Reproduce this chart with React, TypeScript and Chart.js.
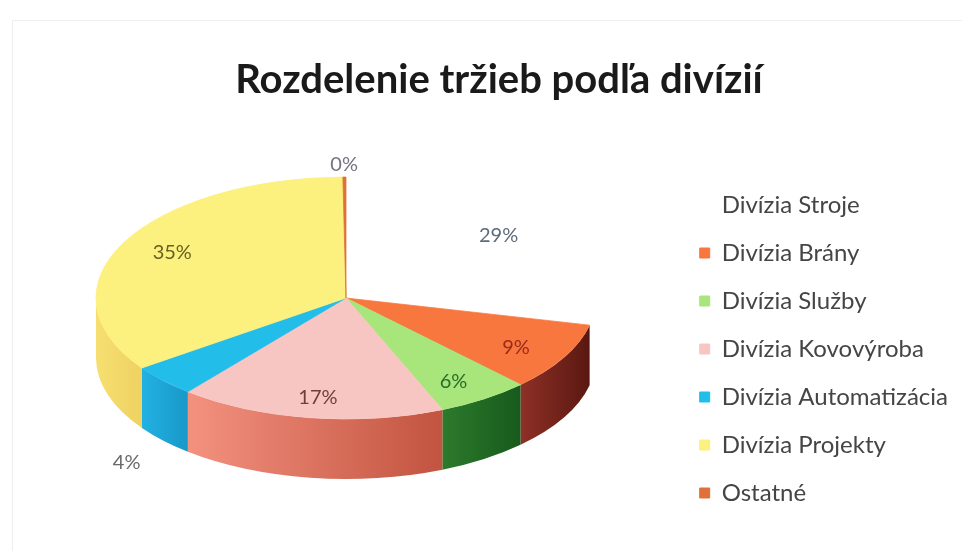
import React, { useEffect, useRef } from "react";
import { Chart, registerables } from "chart.js";

Chart.register(...registerables);

// ---- data ----
const chartTitle = "Rozdelenie tržieb podľa divízií";
const categories = [
  "Divízia Stroje",
  "Divízia Brány",
  "Divízia Služby",
  "Divízia Kovovýroba",
  "Divízia Automatizácia",
  "Divízia Projekty",
  "Ostatné",
];
const shares = [28.6, 9.1, 6.0, 17.2, 4.3, 34.6, 0.2];

// ---- styles ----
const topColors = ["#ffffff", "#f7773e", "#a8e67c", "#f8c6c2", "#22bde9", "#fcf07e", "#e0703a"];
const sideLight = ["#ffffff", "#8e3026", "#2c7a2c", "#f3917f", "#22b2e2", "#f6df70", "#b85020"];
const sideDark = ["#ffffff", "#5a1810", "#185a1c", "#c25440", "#1898c8", "#eed262", "#a04018"];
const labelColors = ["#5d6b7c", "#9c2a1c", "#2b6a2b", "#6b3f3f", "#6a6a6a", "#676220", "#747484"];

const FONT = "Lato, 'Open Sans', sans-serif";
const GEOM = { cx: 346, cy: 298, rx: 250, ry: 121, depth: 60 };

const pie3d = {
  id: "pie3d",
  beforeDraw(chart: any) {
    const ctx = chart.ctx;
    ctx.save();
    ctx.strokeStyle = "#eeeeee";
    ctx.lineWidth = 1;
    ctx.beginPath();
    ctx.moveTo(12.5, 551);
    ctx.lineTo(12.5, 20.5);
    ctx.lineTo(962, 20.5);
    ctx.stroke();
    ctx.restore();
  },
  afterDatasetsUpdate(chart: any) {
    const meta = chart.getDatasetMeta(0);
    meta.data.forEach((arc: any) => {
      arc.x = GEOM.cx;
      arc.y = GEOM.cy;
      arc.outerRadius = GEOM.rx;
      arc.innerRadius = 0;
    });
  },
  beforeDatasetsDraw(chart: any) {
    const ctx = chart.ctx;
    const meta = chart.getDatasetMeta(0);
    const { cx, cy, rx, ry, depth } = GEOM;
    meta.data.forEach((arc: any, i: number) => {
      const s = Math.max(arc.startAngle, 0);
      const e = Math.min(arc.endAngle, Math.PI);
      if (e <= s) return;
      const xRight = cx + rx * Math.cos(s);
      const xLeft = cx + rx * Math.cos(e);
      const g = ctx.createLinearGradient(xLeft, 0, xRight + 0.01, 0);
      g.addColorStop(0, sideLight[i]);
      g.addColorStop(1, sideDark[i]);
      ctx.save();
      ctx.beginPath();
      ctx.ellipse(cx, cy, rx, ry, 0, s, e, false);
      ctx.ellipse(cx, cy + depth, rx, ry, 0, e, s, true);
      ctx.closePath();
      ctx.fillStyle = g;
      ctx.fill();
      ctx.restore();
    });
    ctx.save();
    ctx.translate(cx, cy);
    ctx.scale(1, ry / rx);
    ctx.translate(-cx, -cy);
  },
  afterDatasetsDraw(chart: any) {
    const ctx = chart.ctx;
    ctx.restore();
    const meta = chart.getDatasetMeta(0);
    const { cx, cy, rx, ry, depth } = GEOM;
    const total = shares.reduce((a, b) => a + b, 0);
    ctx.save();
    ctx.font = `20px ${FONT}`;
    ctx.textAlign = "center";
    ctx.textBaseline = "middle";
    meta.data.forEach((arc: any, i: number) => {
      const pct = Math.round((shares[i] / total) * 100);
      const mid = (arc.startAngle + arc.endAngle) / 2;
      const c = Math.cos(mid);
      const sn = Math.sin(mid);
      let x: number;
      let y: number;
      if (pct < 5) {
        x = cx + rx * 1.2 * c;
        y = cy + ry * 1.1 * sn + (sn > 0 ? depth + 14 : 0);
      } else {
        x = cx + rx * 0.78 * c;
        y = cy + ry * 0.83 * sn;
      }
      ctx.fillStyle = labelColors[i];
      ctx.fillText(pct + "%", x, y);
    });
    ctx.restore();
  },
};

export default function App() {
  const ref = useRef<HTMLCanvasElement | null>(null);
  useEffect(() => {
    if (!ref.current) return;
    const chart = new Chart(ref.current, {
      type: "pie",
      data: {
        labels: categories,
        datasets: [
          {
            data: shares,
            backgroundColor: topColors,
            borderColor: topColors,
            borderWidth: 1,
            clip: false as any,
          },
        ],
      },
      options: {
        animation: false,
        responsive: true,
        maintainAspectRatio: false,
        events: [],
        layout: { padding: { left: 40, right: 4, top: 0, bottom: 0 } },
        plugins: {
          title: {
            display: true,
            text: chartTitle,
            color: "#1a1a1a",
            font: { family: FONT, size: 40, weight: "bold" },
            padding: { top: 56, bottom: 43 },
          },
          legend: {
            position: "right",
            fullSize: false,
            labels: {
              boxWidth: 10,
              boxHeight: 10,
              padding: 24,
              color: "#454545",
              font: { family: FONT, size: 24 },
            },
          },
          tooltip: { enabled: false },
        },
      },
      plugins: [pie3d],
    });
    return () => chart.destroy();
  }, []);
  return (
    <div style={{ position: "fixed", left: 0, top: 0, width: 962, height: 551, background: "#fff" }}>
      <canvas ref={ref} />
    </div>
  );
}
